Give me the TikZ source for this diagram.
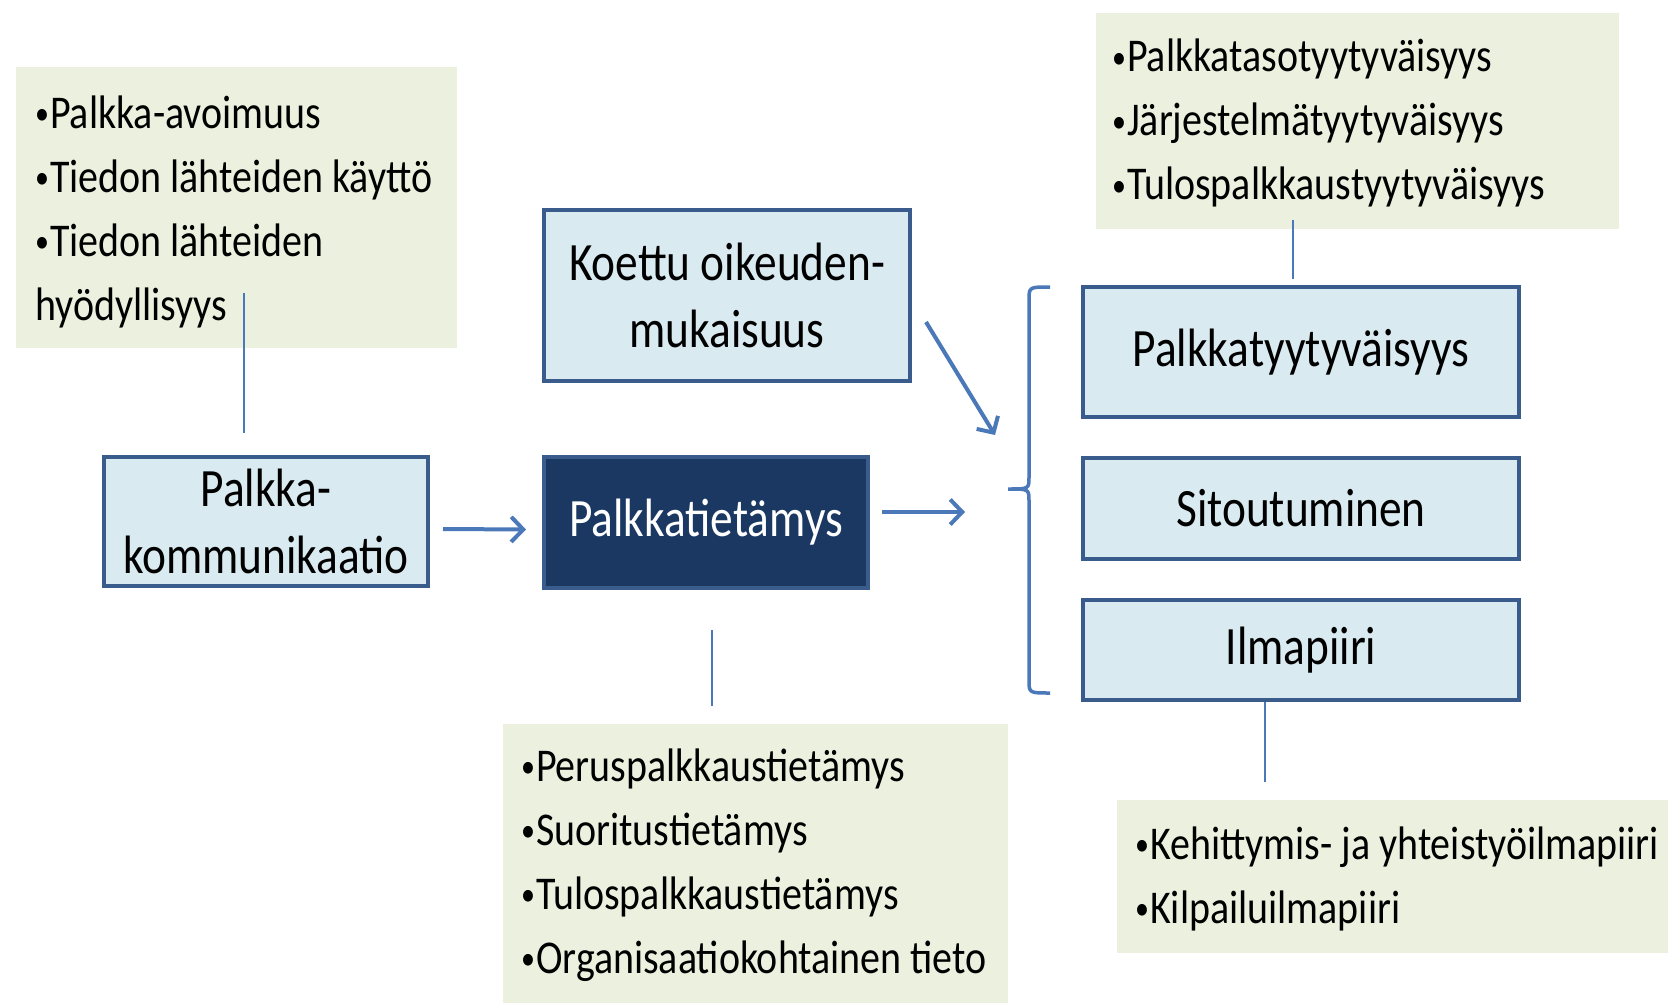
\documentclass[tikz,border=0pt]{standalone}
\usepackage{fontspec}
\usepackage{graphicx}
\setmainfont{Carlito}[FakeStretch=0.85]
\newfontfamily\boxfont{Carlito}[FakeStretch=0.84]
\newcommand{\bul}{\raisebox{3.5pt}{\scalebox{0.7}{•}}\hspace{1pt}}
\usetikzlibrary{arrows.meta,calc}
\definecolor{boxfill}{HTML}{DAEAF1}
\definecolor{boxline}{HTML}{3A5C8C}
\definecolor{darkfill}{HTML}{1A3862}
\definecolor{greenfill}{HTML}{EBF1DE}
\definecolor{conn}{HTML}{4A78B8}
\begin{document}
\begin{tikzpicture}[x=1pt,y=-1pt,
  bluebox/.style={draw=boxline, line width=4pt, fill=boxfill, inner sep=0pt, align=center, font=\boxfont\fontsize{54}{67}\selectfont},
  darkbox/.style={bluebox, fill=darkfill, text=white},
  greenbox/.style={fill=greenfill, anchor=north west, inner sep=0pt},
  greentext/.style={anchor=west, inner sep=0pt, align=left, font=\fontsize{47}{64}\selectfont},
  arr/.style={draw=conn, line width=4pt, -{Straight Barb[length=12pt,width=25pt,line width=4pt]}},
  conline/.style={draw=conn, line width=2.5pt},
  bracketline/.style={draw=conn, line width=3.5pt},
]
\useasboundingbox[fill=white] (0,0) rectangle (1668,1003);

% green boxes
\node[greenbox, minimum width=441pt, minimum height=281pt] (lg) at (16,67) {};
\node[greentext] (lgt) at ($(lg.west)+(19,4)$) {\bul Palkka-avoimuus\\\bul Tiedon lähteiden käyttö\\\bul Tiedon lähteiden\\hyödyllisyys};

\node[greenbox, minimum width=523pt, minimum height=216pt] (tg) at (1096,13) {};
\node[greentext] (tgt) at ($(tg.west)+(16,2)$) {\bul Palkkatasotyytyväisyys\\\bul Järjestelmätyytyväisyys\\\bul Tulospalkkaustyytyväisyys};

\node[greenbox, minimum width=505pt, minimum height=280pt] (bg) at (503,724) {};
\node[greentext] (bgt) at ($(bg.west)+(18,1)$) {\bul Peruspalkkaustietämys\\\bul Suoritustietämys\\\bul Tulospalkkaustietämys\\\bul Organisaatiokohtainen tieto};

\node[greenbox, minimum width=551pt, minimum height=153pt] (rg) at (1117,800) {};
\node[greentext] (rgt) at ($(rg.west)+(18,2)$) {\bul Kehittymis- ja yhteistyöilmapiiri\\\bul Kilpailuilmapiiri};

% blue boxes
\node[bluebox, minimum width=324pt, minimum height=129pt] (pk) at (266,521.5) {Palkka-\\kommunikaatio};
\node[darkbox, minimum width=324pt, minimum height=131pt] (pt) at (706,522) {Palkkatietämys};
\node[bluebox, minimum width=366pt, minimum height=171pt] (ko) at (727,295.5) {Koettu oikeuden-\\mukaisuus};
\node[bluebox, minimum width=436pt, minimum height=130pt] (pty) at (1301,352) {\raisebox{-4pt}{Palkkatyytyväisyys}};
\node[bluebox, minimum width=436pt, minimum height=101pt] (sit) at (1301,508.5) {Sitoutuminen};
\node[bluebox, minimum width=436pt, minimum height=100pt] (ilm) at (1301,650) {\raisebox{-4pt}{Ilmapiiri}};

% connector lines
\coordinate (l1) at (244,293); \coordinate (l2) at (244,433);
\draw[conline] (l1) -- (l2);
\coordinate (t1) at (1293,220); \coordinate (t2) at (1293,279);
\draw[conline] (t1) -- (t2);
\coordinate (b1) at (712,630); \coordinate (b2) at (712,706);
\draw[conline] (b1) -- (b2);
\coordinate (r2) at (1265,782);
\draw[conline] (ilm.south -| r2) -- (r2);

% arrows
\draw[arr] ([yshift=-7.5pt]pk.east) ++(13,0) coordinate (a1s) -- ($(pt.west)+(-16,7.5)$) coordinate (a1e);
\coordinate (a2s) at (882,512); \coordinate (a2e) at (965,512);
\draw[arr] (a2s) -- (a2e);
\coordinate (a3s) at (926,322); \coordinate (a3e) at (995,435);
\draw[arr] (a3s) -- (a3e);

% bracket
\draw[bracketline] (1050,287) .. controls (1029,287) .. (1029,300) -- (1029,477) .. controls (1029,489) .. (1008,489) .. controls (1029,489) .. (1029,501) -- (1029,680) .. controls (1029,693) .. (1050,693);
\end{tikzpicture}
\end{document}
